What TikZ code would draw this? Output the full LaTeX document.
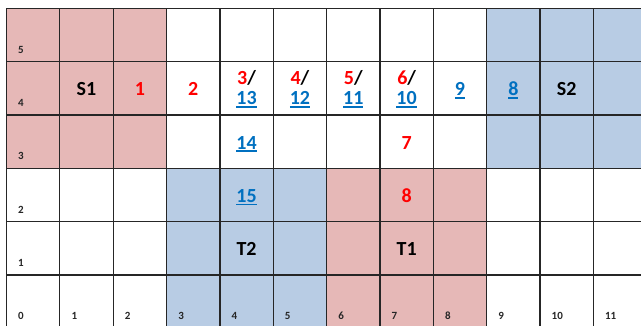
\documentclass[tikz,border=0pt]{standalone}
\usepackage{fontspec}
\setmainfont{Carlito}
\definecolor{cellpink}{HTML}{E6B8B7}
\definecolor{cellblue}{HTML}{B8CCE4}
\definecolor{txtred}{HTML}{FF0000}
\definecolor{txtblue}{HTML}{0070C0}
\newcommand\myul[1]{\setbox0\hbox{#1}\rlap{\rule[-2.8pt]{\wd0}{1.6pt}}\box0}
\tikzset{
  gridline/.style={line width=1.2pt, draw=black!85},
  big/.style={font=\fontsize{20}{24}\selectfont\bfseries, inner sep=0pt, anchor=base},
  redtxt/.style={big, text=txtred},
  bluetxt/.style={big, text=txtblue},
  blacktxt/.style={big, text=black},
  axislbl/.style={font=\fontsize{11}{13}\selectfont\bfseries, inner sep=0pt, anchor=base west, xshift=11.5pt, yshift=8.5pt, text=black!85},
}
\begin{document}
\begin{tikzpicture}
\useasboundingbox (0pt,0pt) rectangle (641pt,-326pt);
\clip (0pt,0pt) rectangle (641pt,-326pt);
\begin{scope}[shift={(6.5pt,-8.5pt)}, x=53.35pt, y=-53.3pt]
  % fills
  \fill[cellpink] (0,0) rectangle (3,3);
  \fill[cellblue] (9,0) rectangle (12.5,3);
  \fill[cellblue] (3,3) rectangle (6,6.5);
  \fill[cellpink] (6,3) rectangle (9,6.5);
  % grid lines
  \foreach \c in {0,...,11} { \draw[gridline] (\c,0) -- (\c,6.5); }
  \foreach \t in {0,...,5} { \draw[gridline] (0,\t) -- (12.5,\t); }
  % axis labels
  \foreach \r/\t in {5/0,4/1,3/2,2/3,1/4} { \node[axislbl] (rl\r) at (0,\t+1) {\r}; }
  \foreach \c in {0,...,11} { \node[axislbl] (cl\c) at (\c,6) {\c}; }
  % row 4
  \node[blacktxt] (s1) at (1.5,1.64) {S1};
  \node[redtxt] (n1) at (2.5,1.64) {1};
  \node[redtxt] (n2) at (3.5,1.64) {2};
  \node[blacktxt] (n3) at (4.5,1.435) {{\color{txtred}3}/};
  \node[bluetxt] (n13) at (4.5,1.81) {\myul{13}};
  \node[blacktxt] (n4) at (5.5,1.435) {{\color{txtred}4}/};
  \node[bluetxt] (n12) at (5.5,1.81) {\myul{12}};
  \node[blacktxt] (n5) at (6.5,1.435) {{\color{txtred}5}/};
  \node[bluetxt] (n11) at (6.5,1.81) {\myul{11}};
  \node[blacktxt] (n6) at (7.5,1.435) {{\color{txtred}6}/};
  \node[bluetxt] (n10) at (7.5,1.81) {\myul{10}};
  \node[bluetxt] (n9) at (8.5,1.64) {\myul{9}};
  \node[bluetxt] (n8b) at (9.5,1.64) {\myul{8}};
  \node[blacktxt] (s2) at (10.5,1.64) {S2};
  % row 3
  \node[bluetxt] (n14) at (4.5,2.64) {\myul{14}};
  \node[redtxt] (n7) at (7.5,2.64) {7};
  % row 2
  \node[bluetxt] (n15) at (4.5,3.64) {\myul{15}};
  \node[redtxt] (n8r) at (7.5,3.64) {8};
  % row 1
  \node[blacktxt] (t2) at (4.5,4.64) {T2};
  \node[blacktxt] (t1) at (7.5,4.64) {T1};
\end{scope}
\end{tikzpicture}
\end{document}
